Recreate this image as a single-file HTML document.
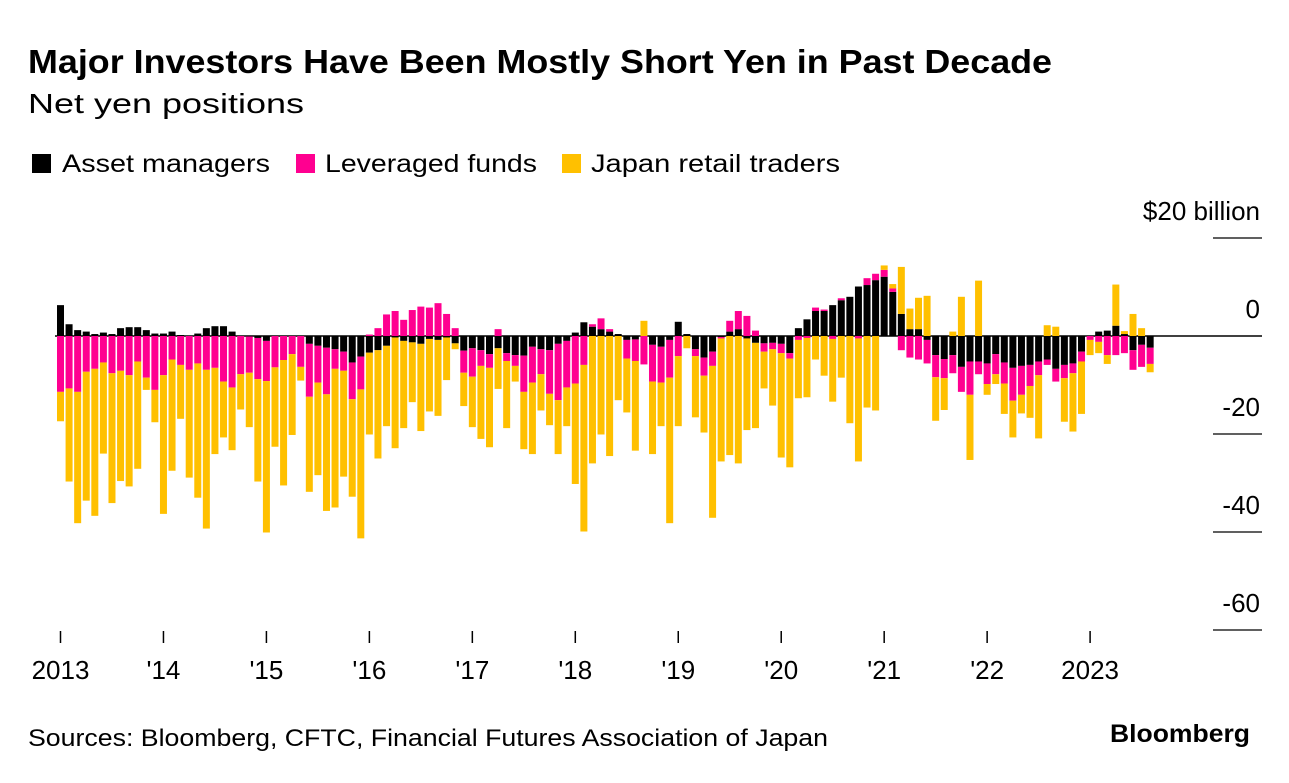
<!DOCTYPE html>
<html><head><meta charset="utf-8">
<style>
body{margin:0;background:#fff;width:1289px;height:778px;overflow:hidden;font-family:"Liberation Sans",Arial,sans-serif;}
</style></head>
<body>
<svg id="chart" width="1289" height="778" xmlns="http://www.w3.org/2000/svg" font-family="Liberation Sans, Arial, sans-serif">
<text x="28" y="73" font-size="33" font-weight="bold" fill="#000" textLength="1024" lengthAdjust="spacingAndGlyphs">Major Investors Have Been Mostly Short Yen in Past Decade</text>
<text x="28" y="113" font-size="28" fill="#000" textLength="276" lengthAdjust="spacingAndGlyphs">Net yen positions</text>
<g>
<rect x="32" y="154" width="19" height="19" fill="#000"/>
<text x="62" y="172" font-size="25" textLength="208" lengthAdjust="spacingAndGlyphs">Asset managers</text>
<rect x="296" y="154" width="19" height="19" fill="#ff0090"/>
<text x="325" y="172" font-size="25" textLength="212" lengthAdjust="spacingAndGlyphs">Leveraged funds</text>
<rect x="562" y="154" width="19" height="19" fill="#ffc000"/>
<text x="591" y="172" font-size="25" textLength="249" lengthAdjust="spacingAndGlyphs">Japan retail traders</text>
</g>
<g id="grid"></g>
<g id="bars"></g>
<g id="xaxis"></g>
<text x="28" y="746" font-size="24" textLength="800" lengthAdjust="spacingAndGlyphs">Sources: Bloomberg, CFTC, Financial Futures Association of Japan</text>
<text x="1110" y="742" font-size="25" font-weight="bold" textLength="140" lengthAdjust="spacingAndGlyphs">Bloomberg</text>
</svg>
<script>
const assetManagers=[6.3,2.4,1.2,0.9,0.4,0.7,0.4,1.6,1.8,1.8,1.2,0.5,0.5,0.9,0.2,0,0.5,1.6,2,2,0.9,0,-0.1,-0.4,-1,0,
0,0,0,-1.6,-2,-2.4,-2.7,-3.2,-5.4,-4.2,-3.4,-2.9,-2,-0.3,-1,-1.3,-1.6,-0.6,-0.8,-0.3,-1.5,-3,-2.5,-2.9,-3.7,-2.5,
-3.5,-3.9,-4,-2.2,-2.7,-2.9,-1.6,-1,0.7,2.8,1.9,1.4,0.9,0.4,-0.8,-0.7,0,-1.8,-2.2,-0.8,2.9,0.4,-2.7,-4.4,-3.2,
-0.2,0.9,1.4,-0.5,-1.4,-1.5,-1.4,-1.6,-3.5,1.6,3.4,5.1,5.1,6.3,7.3,8,10.1,10.4,11.4,12.1,9,4.5,1.4,1.4,-0.8,-3.9,
-4.7,-3.9,-6.3,-5.2,-5.2,-5.6,-3.7,-5.4,-6.5,-6.1,-5.9,-5.2,-4.8,-6.7,-5.9,-5.6,-3.2,0,0.9,1.1,2.1,0.4,-2.9,-1.8,-2.4];
const leveragedFunds=[-11.4,-10.7,-11.4,-7.3,-6.7,-5.4,-7.6,-7.1,-8,-5.2,-8.5,-11,-8,-4.8,-5.9,-6.9,-5.6,-6.9,-6.5,-9.3,-10.5,-7.8,-7.4,-8.4,-8.2,-6.4,
-4.9,-3.7,-6.3,-10.8,-7.5,-9.5,-4,-3.9,-7.5,-6.7,0.3,1.6,4.4,5.1,3.3,5.3,6,5.8,6.7,4.5,1.6,-4.5,-5.8,-3.2,-2.8,1.4,
-1.6,-2.2,-7.4,-7.3,-5.1,-8.9,-11.5,-9.5,-9.7,-5.9,0.5,2.2,0.5,0,-3.8,-4.4,-5.8,-7.5,-7.3,-7.7,-4.1,0,-1.4,-3.7,-2.9,
-0.3,2.2,3.7,4.1,1.1,-1.7,-1.3,-1.9,-1.1,-0.8,-0.4,0.7,0.3,-0.6,0.4,0,-0.5,1.4,1.3,1.4,0.7,-2.9,-4.4,-4.8,-4.8,-4.5,
-3.9,-3.7,-5.1,-6.8,-2.6,-4.2,-4.1,-4.3,-6.7,-5.9,-4.3,-2.8,-1.1,-2.6,-2.7,-2,-2,-0.8,-1.2,-3.9,-3.9,-3.5,-4,-4.5,-3.3];
const retailTraders=[-6,-19,-26.8,-26.3,-30,-18.6,-26.5,-22.5,-22.7,-21.9,-2.5,-6.6,-28.3,-22.7,-11,-22,-27.4,-32.4,-17.6,-11.4,-12.8,-7.2,-11.1,-20.9,-30.9,-16.2,
-25.6,-16.5,-2.8,-19.4,-18.9,-23.8,-28.3,-21.6,-19.9,-30.4,-16.7,-22.1,-16.4,-22.6,-17.8,-12.2,-17.8,-14.8,-15.5,-8.7,-1.2,-6.8,-10.3,-14.9,-16.2,-8.3,
-13.7,-3.2,-11.7,-14.6,-7.4,-6.4,-11,-7.9,-20.5,-34,-26,-20.1,-24.5,-13.1,-11,-18.3,3.1,-14.8,-8.9,-29.7,-14.3,-2.5,-12.5,-11.6,-31,
-25.1,-24.3,-26,-18.7,-17.4,-7.5,-11.5,-21.3,-22.2,-11.9,-12.1,-4.8,-8.1,-12.8,-8.5,-17.8,-25.1,-14.6,-15.2,0.9,0.9,9.6,4.2,6.4,8.2,-8.9,
-6.5,0.9,8,-13.3,11.3,-2.2,-2,-6.2,-7.5,-3.8,-6.5,-12.9,2.2,1.9,-8.9,-11.9,-10.7,-3.1,-2.3,-1.8,8.4,0.6,4.5,1.6,-1.7];
const yTicks=[20,0,-20,-40,-60];
const yTickLabels=["$20 billion","0","-20","-40","-60"];
const xTickLabels=["2013","'14","'15","'16","'17","'18","'19","'20","'21","'22","2023"];

const NS="http://www.w3.org/2000/svg";
const x=i=>60.5+i*8.58;
const y=v=>336-v*4.9;
function mk(tag,attrs,parent){const e=document.createElementNS(NS,tag);for(const k in attrs)e.setAttribute(k,attrs[k]);parent.appendChild(e);return e;}
const grid=document.getElementById('grid'),bars=document.getElementById('bars'),xa=document.getElementById('xaxis');
yTicks.forEach((t,k)=>{
  if(t!==0){const l=mk('line',{x1:1213,x2:1262,y1:y(t),y2:y(t),stroke:'#000','stroke-width':1.3},grid);
  
  }
  const tx=mk('text',{x:1260,y:y(t)-18,'font-size':26,'text-anchor':'end'},grid);
  tx.textContent=yTickLabels[k];
  
  
});
const series=[[assetManagers,'#000','asset-managers'],[leveragedFunds,'#ff0090','leveraged-funds'],[retailTraders,'#ffc000','japan-retail']];
for(let i=0;i<assetManagers.length;i++){
  let pos=0,neg=0;
  series.forEach(([arr,col,nm])=>{
    const v=arr[i];if(!v)return;
    let y0,y1;
    if(v>0){y0=pos;y1=pos+v;pos=y1;}else{y0=neg;y1=neg+v;neg=y1;}
    const r=mk('rect',{x:x(i)-3.5,width:7,y:Math.min(y(y0),y(y1)),height:Math.abs(y(y0)-y(y1)),fill:col},bars);
    
    
  });
}
const zl=mk('line',{x1:55,x2:1262,y1:y(0),y2:y(0),stroke:'#000','stroke-width':1.5},grid);


xTickLabels.forEach((lab,k)=>{
  const xx=x(k*12);
  const t=mk('line',{x1:xx,x2:xx,y1:631,y2:643,stroke:'#000','stroke-width':1.5},xa);
  
  
  const tx=mk('text',{x:xx,y:679,'font-size':26,'text-anchor':'middle'},xa);
  tx.textContent=lab;
  
  
});
</script>
</body></html>
